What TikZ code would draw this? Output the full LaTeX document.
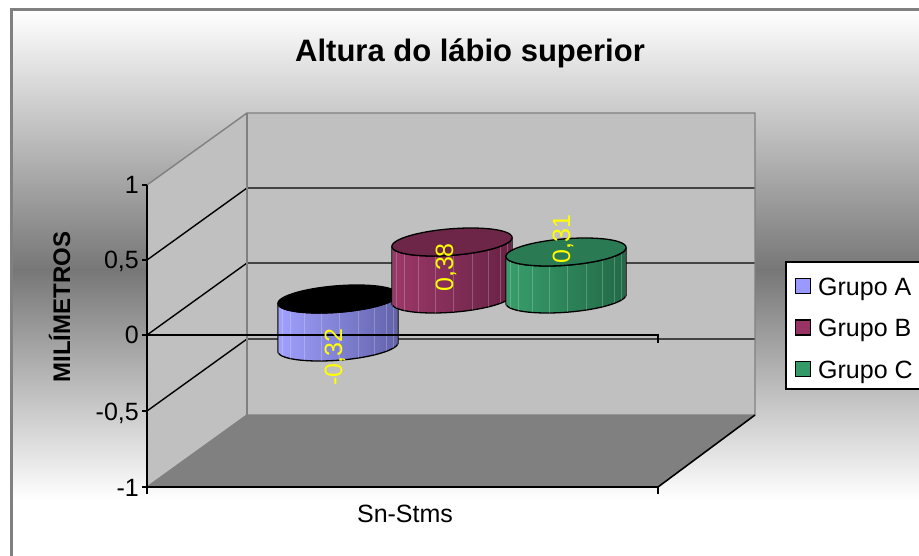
\documentclass[tikz,border=0pt]{standalone}
\usepackage{fontspec}
\setmainfont{Liberation Sans}

\definecolor{wallgray}{HTML}{C0C0C0}
\definecolor{floorgray}{HTML}{808080}
\definecolor{edgegray}{HTML}{808080}
\definecolor{bgdark}{HTML}{777777}
\definecolor{grpA}{HTML}{9999FF}
\definecolor{grpAleft}{HTML}{A0A0FF}
\definecolor{grpAright}{HTML}{6262AA}
\definecolor{grpB}{HTML}{993366}
\definecolor{grpBleft}{HTML}{9C3869}
\definecolor{grpBright}{HTML}{682244}
\definecolor{grpBtop}{HTML}{6E2648}
\definecolor{grpC}{HTML}{339966}
\definecolor{grpCleft}{HTML}{389E6B}
\definecolor{grpCright}{HTML}{226947}
\definecolor{grpCtop}{HTML}{2A7A54}
\definecolor{labelyellow}{HTML}{FFFF00}

% cylinder: #1 centre x, #2 top y, #3 bottom y, #4 left/#5 right body colour, #6 top colour
\newcommand{\barcyl}[6]{%
  \shadedraw[left color=#4, right color=#5, draw=black, line width=1.3pt, line join=round]
    plot[domain=18.43:-161.57, samples=60] ({#1+57*cos(\x)+19*sin(\x)}, {#3-14*sin(\x)})
    -- plot[domain=-161.57:18.43, samples=60] ({#1+57*cos(\x)+19*sin(\x)}, {#2-14*sin(\x)})
    -- cycle;
  \foreach \s in {-152,-140,-124,-106,-88,-70,-52,-34,-18,-4,8}
    \draw[white, opacity=0.22, line width=0.6pt]
      ({#1+57*cos(\s)+19*sin(\s)}, {#2-14*sin(\s)}) -- ({#1+57*cos(\s)+19*sin(\s)}, {#3-14*sin(\s)});
  \filldraw[fill=#6, draw=black, line width=1.3pt, line join=round]
    plot[domain=0:360, samples=90] ({#1+57*cos(\x)+19*sin(\x)}, {#2-14*sin(\x)}) -- cycle;
}

\begin{document}
\begin{tikzpicture}[x=1pt, y=-1pt,
  gridline/.style={black, line width=1.4pt},
  walledge/.style={edgegray, line width=1.4pt},
  axisline/.style={black, line width=1.6pt},
  axtick/.style={black, line width=1.4pt},
  ticklabel/.style={font=\fontsize{25}{30}\selectfont, inner sep=0pt, anchor=base east},
  legendtext/.style={font=\fontsize{25}{30}\selectfont, inner sep=0pt, anchor=base west},
  datalabel/.style={font=\fontsize{25}{30}\selectfont, text=labelyellow, inner sep=0pt, rotate=90, anchor=base},
  swatch/.style={draw=black, line width=1.2pt, minimum size=15pt, inner sep=0pt}
]
\useasboundingbox (0,0) rectangle (919,556);
\fill[white] (0,0) rectangle (919,556);

\begin{scope}
  \clip (0,0) rectangle (919,556);
  % chart area with vertical gradient
  \shade[top color=white, bottom color=bgdark] (11,10) rectangle (940,270);
  \shade[top color=bgdark, bottom color=white] (11,270) rectangle (940,500);
  \fill[white] (11,500) rectangle (940,580);
  \draw[edgegray, line width=2.6pt] (940,9.5) -- (11.3,9.5) -- (11.3,580);

  % legend box
  \draw[black, fill=white, line width=1.5pt] (786,262) rectangle (950,389);
\end{scope}

% walls and floor
\coordinate (ftop) at (147,185);
\coordinate (fbot) at (147,487);
\coordinate (btl) at (247,113);
\coordinate (bbl) at (247,415);
\coordinate (btr) at (755,113);
\coordinate (bbr) at (755,415);
\coordinate (ffr) at (658,487);
\fill[wallgray] (ftop) -- (btl) -- (bbl) -- (fbot) -- cycle;
\fill[wallgray] (btl) rectangle (bbr);
\fill[floorgray] (fbot) -- (bbl) -- (bbr) -- (ffr) -- cycle;

% gridlines
\draw[gridline] (147,260) -- (247,188) -- (755,188);
\draw[gridline] (147,335) -- (247,263) -- (755,263);
\draw[gridline] (147,411) -- (247,339) -- (755,339);

% wall edges
\draw[walledge] (ftop) -- (btl) -- (btr) -- (bbr) -- (bbl) -- (fbot);
\draw[walledge] (btl) -- (bbl);

% floor front and right edges, value axis
\draw[axisline] (fbot) -- (ffr) -- (bbr);
\draw[axisline] (ftop) -- (fbot);

% ticks
\foreach \yy in {185,260,335,411,487}
  \draw[axtick] (142,\yy) -- (147,\yy);
\draw[axtick] (147,487) -- (147,494);
\draw[axtick] (658,487) -- (658,494);

% bars
\barcyl{338}{299}{347}{grpAleft}{grpAright}{black}
\barcyl{452}{242}{299}{grpBleft}{grpBright}{grpBtop}
\barcyl{566}{252}{299}{grpCleft}{grpCright}{grpCtop}

% category axis at zero
\draw[axisline] (147,335) -- (658,335) -- (658,343);

% data labels
\node[datalabel] (dA) at (342,357.5) {-0,32};
\node[datalabel] (dB) at (453,267.5) {0,38};
\node[datalabel] (dC) at (570,239) {0,31};

% tick labels
\node[ticklabel] (l1) at (139,194) {1};
\node[ticklabel] (l2) at (139,269) {0,5};
\node[ticklabel] (l3) at (139,344) {0};
\node[ticklabel] (l4) at (139,420) {-0,5};
\node[ticklabel] (l5) at (139,496) {-1};

% titles
\node[font=\bfseries\fontsize{31}{36}\selectfont, inner sep=0pt, anchor=base] (title) at (470,62) {Altura do lábio superior};
\node[font=\bfseries\fontsize{24}{28}\selectfont, inner sep=0pt, rotate=90, anchor=base] (ytitle) at (70,307) {MILÍMETROS};
\node[font=\fontsize{25}{30}\selectfont, inner sep=0pt, anchor=base] (xtitle) at (405,522) {Sn-Stms};

% legend entries
\node[swatch, fill=grpA] (swA) at (803,286) {};
\node[swatch, fill=grpB] (swB) at (803,327.5) {};
\node[swatch, fill=grpC] (swC) at (803,369) {};
\node[legendtext] (lgA) at (818,295) {Grupo A};
\node[legendtext] (lgB) at (818,336.5) {Grupo B};
\node[legendtext] (lgC) at (818,378) {Grupo C};
\end{tikzpicture}
\end{document}
